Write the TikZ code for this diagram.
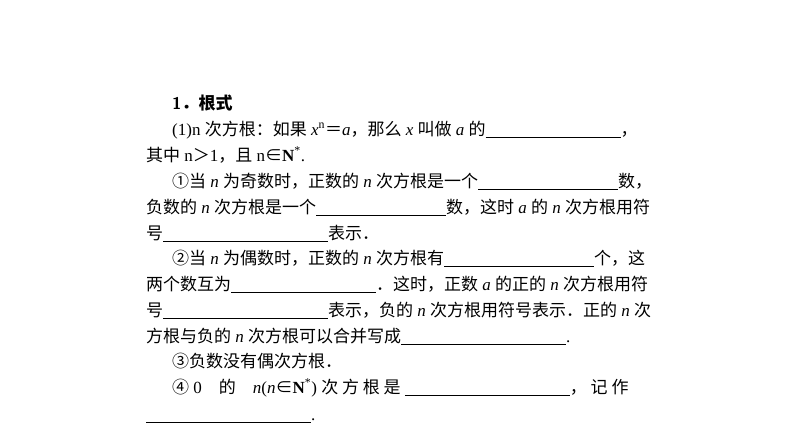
\documentclass[tikz,border=0pt]{standalone}
\usepackage{fontspec}
\usepackage{amssymb}
\setmainfont{Liberation Serif}
\newfontfamily\cjk{Noto Sans CJK SC}
\usetikzlibrary{positioning}
\newcommand{\blank}[1]{\rule[-3pt]{#1pt}{0.6pt}}
\newcommand{\zh}[1]{{\cjk #1}}
\tikzset{txt/.style={anchor=base west, inner sep=0pt, font=\fontsize{17}{19}\selectfont}}
\begin{document}
\begin{tikzpicture}[x=1pt,y=-1pt]
\useasboundingbox (0,0) rectangle (794,447);
% heading
\node[txt, font=\fontsize{17}{19}\selectfont\bfseries] (l1) at (172,109) {\textsf{1}\zh{．根式}};
% (1)
\node[txt] (l2) at (172,135) {(1)n \zh{次方根：如果} \textit{x}\textsuperscript{n}\zh{＝}\textit{a}\zh{，那么} \textit{x} \zh{叫做} \textit{a} \zh{的}\blank{135}\zh{，}};
\node[txt] (l3) at (146,161) {\zh{其中} n\zh{＞}1\zh{，且} n\zh{∈}\textbf{N}\textsuperscript{*}.};
\node[txt] (l4) at (172,187) {\zh{①当} \textit{n} \zh{为奇数时，正数的} \textit{n} \zh{次方根是一个}\blank{140}\zh{数，}};
\node[txt] (l5) at (146,213) {\zh{负数的} \textit{n} \zh{次方根是一个}\blank{130}\zh{数，这时} \textit{a} \zh{的} \textit{n} \zh{次方根用符}};
\node[txt] (l6) at (146,239) {\zh{号}\blank{165}\zh{表示．}};
\node[txt] (l7) at (172,264) {\zh{②当} \textit{n} \zh{为偶数时，正数的} \textit{n} \zh{次方根有}\blank{150}\zh{个，这}};
\node[txt] (l8) at (146,290) {\zh{两个数互为}\blank{145}\zh{．这时，正数} \textit{a} \zh{的正的} \textit{n} \zh{次方根用符}};
\node[txt] (l9) at (146,316) {\zh{号}\blank{165}\zh{表示，负的} \textit{n} \zh{次方根用符号表示．正的} \textit{n} \zh{次}};
\node[txt] (l10) at (146,342) {\zh{方根与负的} \textit{n} \zh{次方根可以合并写成}\blank{165}.};
\node[txt] (l11) at (172,367) {\zh{③负数没有偶次方根．}};
\node[txt] (l12) at (172,393) {\zh{④} 0\quad \zh{的}\quad \textit{n}(\textit{n}\zh{∈}\textbf{N}\textsuperscript{*}) \zh{次 方 根 是} \blank{165}\zh{， 记 作}};
\node[txt] (l13) at (146,420) {\blank{165}.};
\end{tikzpicture}
\end{document}
